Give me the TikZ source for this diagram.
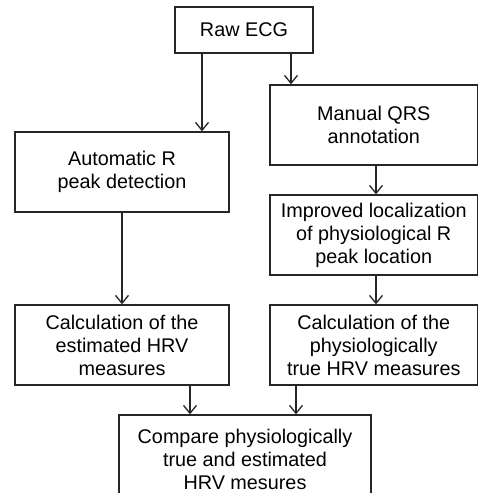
\documentclass[tikz,border=0pt]{standalone}
\usepackage{fontspec}
\setmainfont{Liberation Sans}
\usetikzlibrary{arrows.meta}
\begin{document}
\begin{tikzpicture}[x=1pt,y=-1pt,
  box/.style={draw=black!85,line width=1.3pt,inner sep=0pt,align=center,
    font=\fontsize{19.8}{23}\selectfont,text=black},
  arr/.style={draw=black!85,line width=1.3pt,-{Straight Barb[length=8pt,width=13pt,line width=1.3pt]}}]
\useasboundingbox (0,0) rectangle (479,493);
\clip (0,0) rectangle (479,493);
\node[box,minimum width=138pt,minimum height=46pt] (raw) at (244,30) {Raw ECG};
\node[box,minimum width=214pt,minimum height=80pt] (auto) at (122,172) {Automatic R\\peak detection};
\node[box,minimum width=207.5pt,minimum height=80pt] (manual) at (373.75,125) {Manual QRS\\annotation};
\node[box,minimum width=207.5pt,minimum height=80pt] (impr) at (373.75,235) {Improved localization\\of physiological R\\peak location};
\node[box,minimum width=214pt,minimum height=80pt] (calcL) at (122,345) {Calculation of the\\estimated HRV\\measures};
\node[box,minimum width=207.5pt,minimum height=80pt] (calcR) at (373.75,345) {Calculation of the\\physiologically\\true HRV measures};
\node[box,minimum width=252pt,minimum height=88pt] (cmp) at (245,459) {Compare physiologically\\true and estimated\\HRV mesures};
\coordinate (xa) at (202,0);
\coordinate (xb) at (291,0);
\coordinate (xc) at (376,0);
\coordinate (xd) at (190,0);
\coordinate (xe) at (296,0);
\draw[arr] (raw.south -| xa) -- (auto.north -| xa);
\draw[arr] (raw.south -| xb) -- (manual.north -| xb);
\draw[arr] (auto.south) -- (calcL.north);
\draw[arr] (manual.south -| xc) -- (impr.north -| xc);
\draw[arr] (impr.south -| xc) -- (calcR.north -| xc);
\draw[arr] (calcL.south -| xd) -- (cmp.north -| xd);
\draw[arr] (calcR.south -| xe) -- (cmp.north -| xe);
\end{tikzpicture}
\end{document}
